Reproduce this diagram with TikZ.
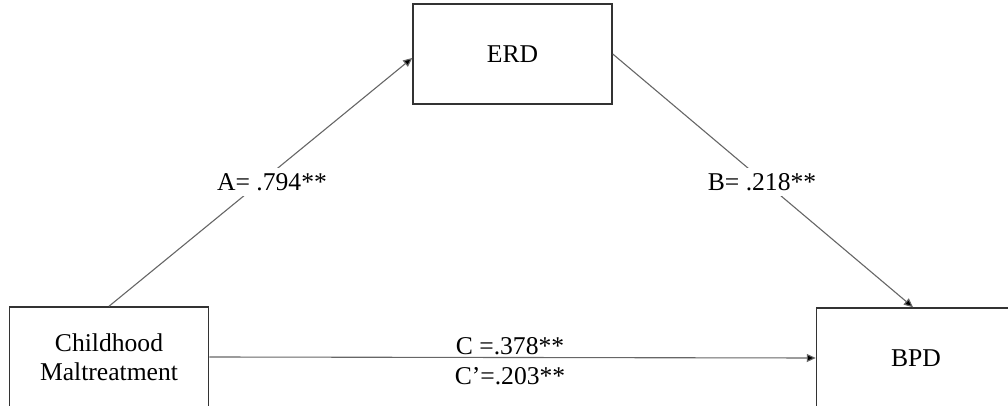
\documentclass[tikz,border=0pt]{standalone}
\usepackage{fontspec}
\setmainfont{Liberation Serif}
\usetikzlibrary{arrows.meta}
\begin{document}
\begin{tikzpicture}[x=0.5pt,y=-0.5pt,
  every node/.style={font=\fontsize{12.8}{14.5}\selectfont},
  varbox/.style={draw=black!80, line width=0.75pt, fill=white, inner sep=0pt,
    minimum width=99.5pt, minimum height=50pt, align=center},
  path/.style={draw=black!60, line width=0.55pt,
    -{Triangle[length=4.5pt,width=4pt,fill=black]}},
  coef/.style={fill=white, inner sep=2.5pt}]
  \useasboundingbox (0,0) rectangle (1008,406);
  \clip (0,0) rectangle (1008,406);

  % variables
  \node[varbox] (erd) at (512.5,54) {ERD};
  \node[varbox] (cm)  at (109,357) {Childhood\\Maltreatment};
  \node[varbox] (bpd) at (916,358) {BPD};

  % paths
  \draw[path] (cm.north) -- ([yshift=-2pt]erd.west);
  \draw[path] (erd.east) -- ([xshift=-1.5pt]bpd.north);
  \draw[path] (cm.east) -- (bpd.west);

  % coefficients
  \node[coef] (a) at (272,182) {A= .794**};
  \node[coef] (b) at (762,182) {B= .218**};
  \node[anchor=base, inner sep=0pt] (c) at (510,355) {C =.378**};
  \node[anchor=base, inner sep=0pt] (cp) at (510,385) {C’=.203**};
\end{tikzpicture}
\end{document}
